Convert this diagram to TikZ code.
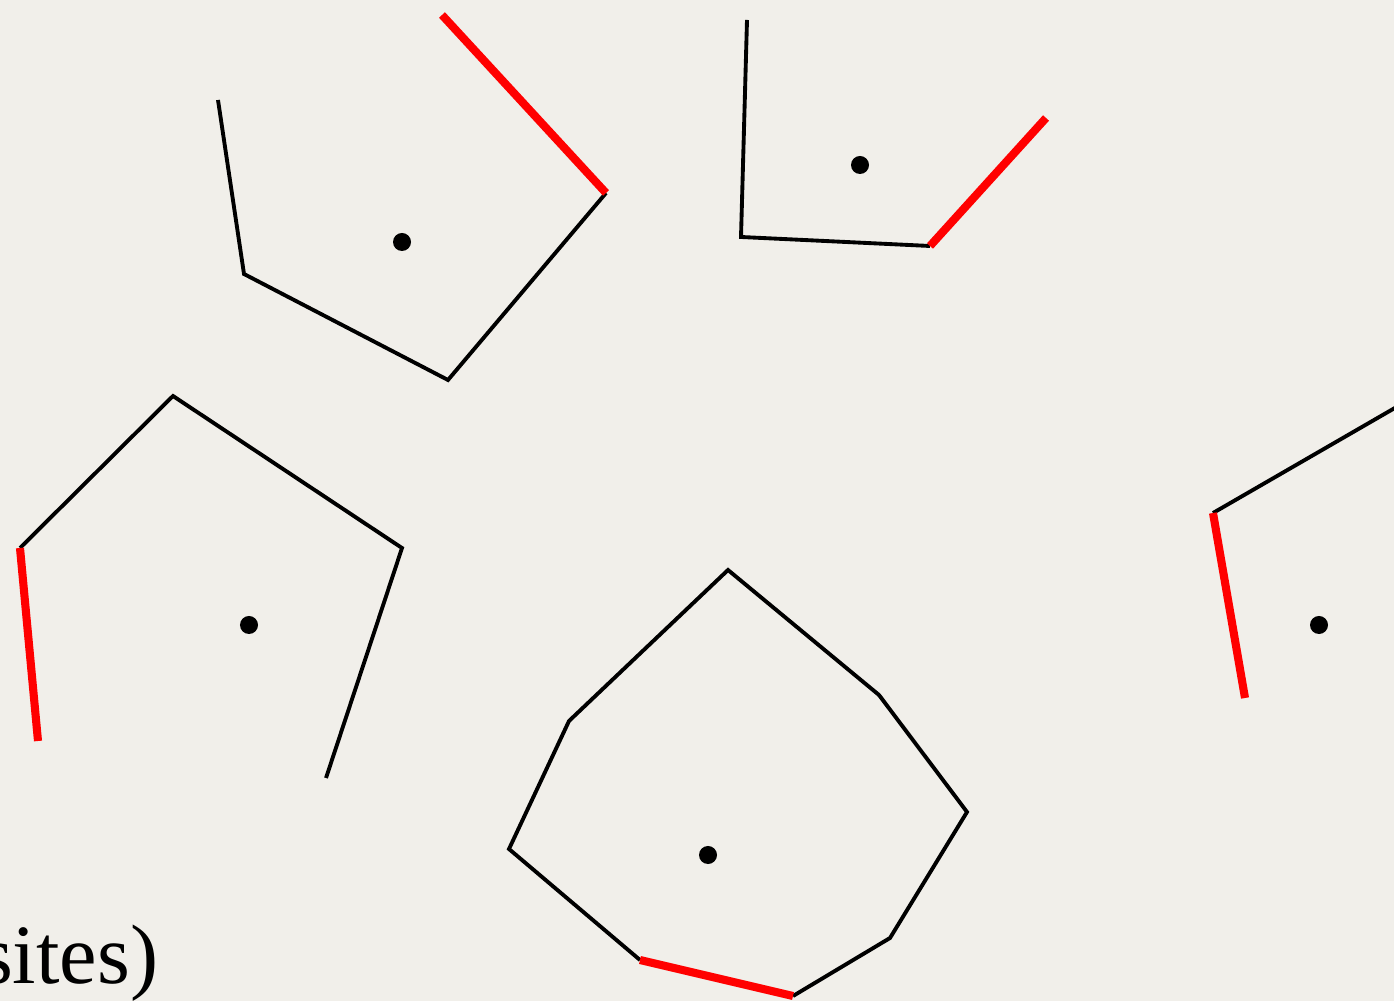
\documentclass[tikz,border=0pt]{standalone}
\usepackage{fontspec}
\setmainfont{Liberation Serif}
\usepackage{tikz}
\definecolor{paper}{RGB}{241,239,234}
\definecolor{hullred}{RGB}{255,0,0}

\begin{document}
\begin{tikzpicture}[
  x=0.01cm, y=-0.01cm,
  cell/.style={draw=black, line width=1.1pt, line join=miter},
  redge/.style={draw=hullred, line width=2.3pt},
  site/.style={fill=black, circle, inner sep=0pt, minimum size=0.18cm}
]
\fill[paper] (0,0) rectangle (1394,1001);
\useasboundingbox (0,0) rectangle (1394,1001);

% top left cell
\draw[cell] (218,100) -- (244,274) -- (448,380) -- (606,193);
\draw[redge] (606,193) -- (442,15);
\node[site] (s1) at (402,242) {};

% top middle cell
\draw[cell] (747,20) -- (741,237) -- (930,246);
\draw[redge] (930,246) -- (1046,118);
\node[site] (s2) at (860,165) {};

% left cell
\draw[cell] (20,548) -- (173,396) -- (402,548) -- (326,778);
\draw[redge] (20,548) -- (38,741);
\node[site] (s3) at (249,625) {};

% right cell
\draw[cell] (1400,405) -- (1213,513);
\draw[redge] (1213,513) -- (1245,698);
\node[site] (s4) at (1319,625) {};

% bottom cell
\draw[cell] (640,960) -- (509,849) -- (569,721) -- (728,570) -- (879,695) -- (967,812) -- (890,938) -- (793,996);
\draw[redge] (640,960) -- (793,996);
\node[site] (s5) at (708,855) {};

\node[anchor=base east, inner sep=0pt, font=\fontsize{24pt}{28pt}\selectfont] (lbl) at (159,983) {sites)};
\end{tikzpicture}
\end{document}
